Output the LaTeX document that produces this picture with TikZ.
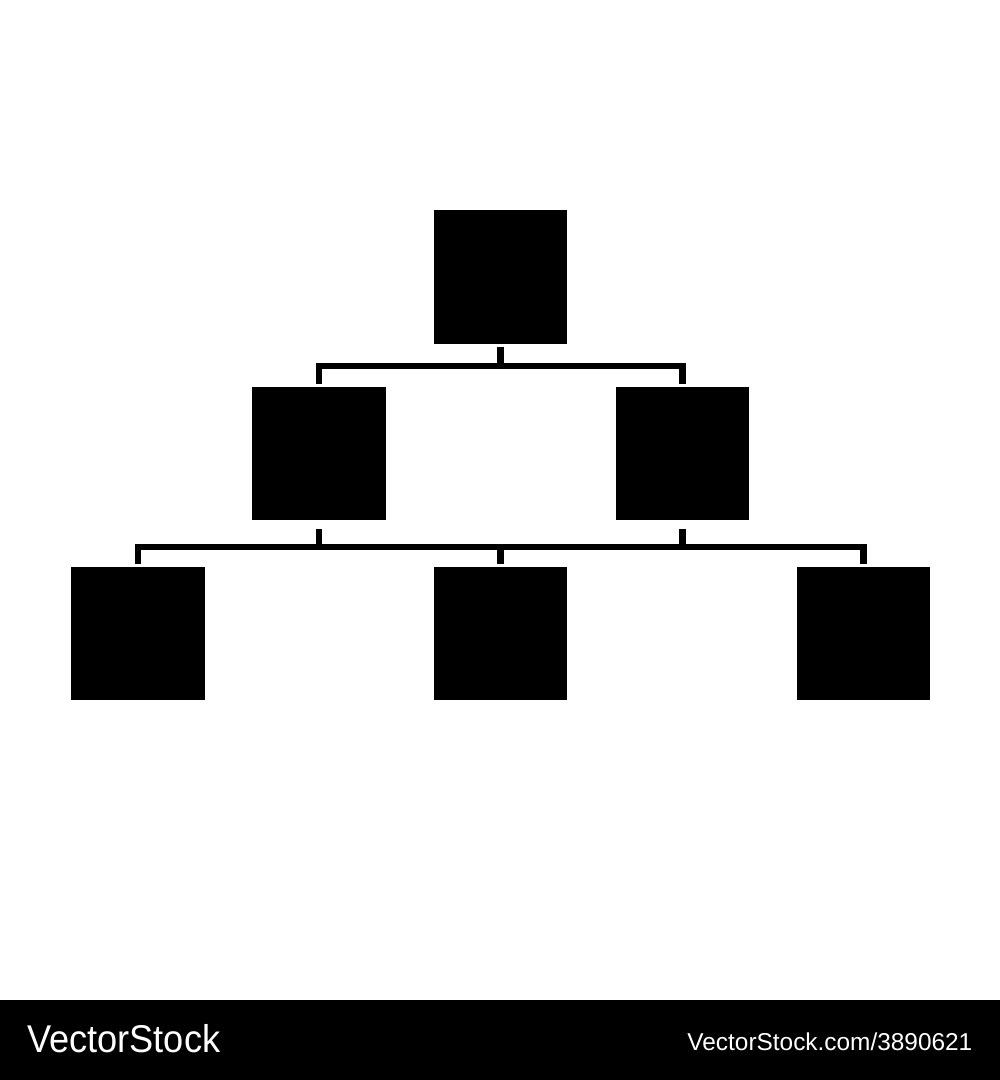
\documentclass[tikz,border=0pt]{standalone}
\usepackage{fontspec}
\newfontfamily\vsleft[FakeStretch=0.935]{Liberation Sans}
\newfontfamily\vsright{Liberation Sans}
\begin{document}
\begin{tikzpicture}[x=1pt,y=1pt,
  box/.style={rectangle,fill=black,draw=none,inner sep=0pt,minimum size=133.3pt},
  conn/.style={line width=6.8pt,draw=black,line join=miter}]
\useasboundingbox (0,0) rectangle (1000,1080);
\fill[white] (0,0) rectangle (1000,1080);
% boxes
\node[box] (t)  at (500.7,803) {};
\node[box] (ml) at (319,626.3) {};
\node[box] (mr) at (682.3,626.3) {};
\node[box] (bl) at (138,446.2) {};
\node[box] (bm) at (500.7,446.2) {};
\node[box] (br) at (863.5,446.2) {};
% level 1 connectors
\coordinate (h1) at (500.7,714);
\draw[conn] ([yshift=3pt]ml.north) |- (h1) -| ([yshift=3pt]mr.north);
\draw[conn] ([yshift=-3pt]t.south) -- (h1);
% level 2 connectors
\coordinate (h2) at (500.7,533);
\draw[conn] ([yshift=2.5pt]bl.north) |- (h2) -| ([yshift=2.5pt]br.north);
\draw[conn] ([yshift=2.5pt]bm.north) -- (h2);
\draw[conn] ([yshift=-8pt]ml.south) -- (ml.south |- h2);
\draw[conn] ([yshift=-8pt]mr.south) -- (mr.south |- h2);
% bottom bar
\fill[black] (0,0) rectangle (1000,80);
\node[anchor=base west,inner sep=0pt,text=white,font={\vsleft\fontsize{38.7pt}{40pt}\selectfont}] (logo) at (27,27.3) {VectorStock};
\node[anchor=base east,inner sep=0pt,text=white,font={\vsright\fontsize{24.4pt}{26pt}\selectfont}] (url) at (972.5,29.3) {VectorStock.com/3890621};
\end{tikzpicture}
\end{document}
